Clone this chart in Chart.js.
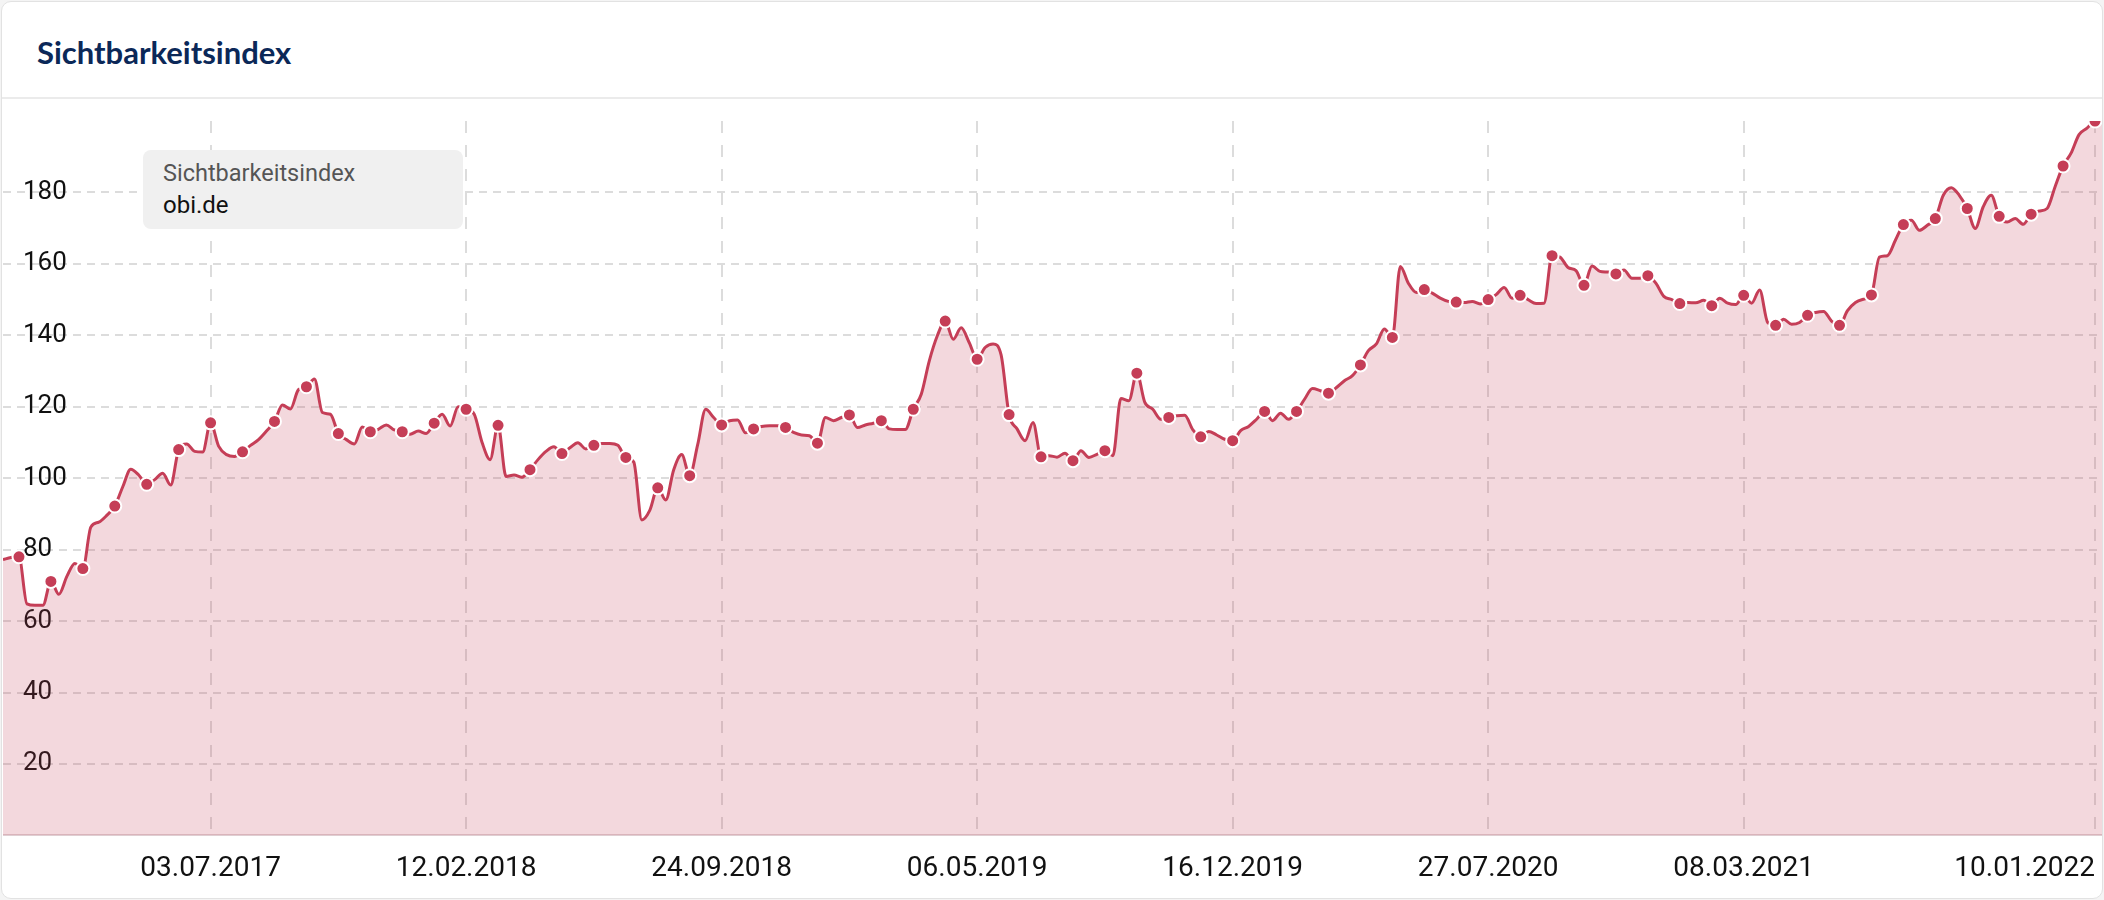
<!DOCTYPE html>
<html>
<head>
<meta charset="utf-8">
<script src="https://cdn.jsdelivr.net/npm/chart.js@4/dist/chart.umd.min.js"></script>
<style>
  html, body { margin: 0; padding: 0; background: #f4f4f4; }
  body { width: 2104px; height: 900px; position: relative; overflow: hidden; }
  #card { position: absolute; left: 1px; top: 1px; width: 2100px; height: 896px;
          background: #fff; border: 1px solid #e2e2e2; border-radius: 10px; overflow: hidden; }
  #title { position: absolute; left: 35px; top: 30px; font-family: Lato, "Open Sans", sans-serif;
           font-weight: 700; font-size: 31px; line-height: 40px; color: #0b2858; }
  #sep { position: absolute; left: 0; top: 95px; width: 100%; height: 2px; background: #ebebeb; }
  #chartwrap { position: absolute; left: 1px; top: 98px; }
  #legend { position: absolute; left: 141px; top: 148px; width: 320px; height: 79px;
            background: #f0f0f0; border-radius: 8px; font-family: Roboto, sans-serif; }
  #legend .l1 { position: absolute; left: 20px; top: 8px; color: #555; line-height: 30px; font-size: 23.5px; }
  #legend .l2 { position: absolute; left: 20px; top: 40px; color: #111; line-height: 30px; font-size: 24px; }
</style>
</head>
<body>
<div id="card">
  <div id="title">Sichtbarkeitsindex</div>
  <div id="sep"></div>
  <div id="chartwrap"><canvas id="c" width="2100" height="803"></canvas></div>
  <div id="legend"><div class="l1">Sichtbarkeitsindex</div><div class="l2">obi.de</div></div>
</div>
<script>
// Weekly categories starting 02.01.2017
const startDate = Date.UTC(2017, 0, 2);
const weekCount = 264;
const categories = [];
for (let i = 0; i < weekCount; i++) {
  const d = new Date(startDate + i * 7 * 86400000);
  const dd = String(d.getUTCDate()).padStart(2, '0');
  const mm = String(d.getUTCMonth() + 1).padStart(2, '0');
  categories.push(dd + '.' + mm + '.' + d.getUTCFullYear());
}

const tickLabels = ['03.07.2017', '12.02.2018', '24.09.2018', '06.05.2019',
                    '16.12.2019', '27.07.2020', '08.03.2021', '10.01.2022'];

const yTicks = [20, 40, 60, 80, 100, 120, 140, 160, 180];

const seriesName = 'obi.de';
const seriesLabel = 'Sichtbarkeitsindex';

const values2017 = [
  77.2, 77.8, 78.0, 64.8, 64.4, 64.4, 71.1, 67.5, 72.5, 76.1, 74.7, 86.3, 87.7,
  89.6, 92.2, 97.6, 102.5, 100.9, 98.3, 99.6, 101.4, 98.1, 108.0, 109.6, 107.5, 107.3,
  115.5, 109.0, 106.6, 106.1, 107.4, 109.2, 110.8, 113.2, 115.9, 120.5, 119.4, 124.8, 125.6,
  127.8, 118.4, 117.9, 112.5, 110.8, 109.6, 114.3, 113.0, 113.7, 114.9, 113.5, 113.0, 112.3
];
const values2018 = [
  113.2, 112.5, 115.4, 117.9, 114.6, 120.0, 119.3, 118.0, 110.0, 105.2, 114.8, 100.5, 100.9,
  100.3, 102.4, 105.2, 107.5, 108.8, 106.9, 108.5, 109.9, 108.2, 109.2, 109.7, 109.7, 109.2,
  105.8, 104.5, 88.3, 91.0, 97.3, 93.9, 102.4, 106.6, 100.7, 109.4, 119.3, 117.0, 114.9,
  116.1, 116.3, 112.7, 113.8, 114.5, 114.7, 114.7, 114.2, 112.8, 112.1, 111.9, 109.8, 117.0
];
const values2019 = [
  116.1, 117.0, 117.7, 114.2, 114.9, 115.4, 116.1, 113.8, 113.6, 113.6, 119.3, 123.5, 132.8,
  139.8, 144.0, 138.9, 142.1, 138.0, 133.3, 136.6, 137.6, 134.5, 117.8, 113.8, 110.5, 115.6,
  106.0, 106.3, 105.9, 107.0, 104.9, 107.7, 105.8, 106.7, 107.7, 106.3, 122.3, 121.7, 129.4,
  121.2, 119.3, 116.5, 117.0, 117.5, 117.6, 113.6, 111.6, 113.1, 112.1, 110.9, 110.5, 113.3
];
const values2020 = [
  114.5, 116.5, 118.7, 116.1, 118.2, 116.5, 118.7, 122.1, 125.1, 124.5, 123.8, 125.4, 127.3,
  128.7, 131.7, 135.7, 137.6, 141.8, 139.4, 159.3, 154.6, 152.0, 152.8, 151.8, 150.4, 149.5,
  149.3, 149.2, 149.5, 148.8, 150.0, 151.4, 153.4, 150.4, 151.2, 150.0, 148.9, 149.0, 162.3,
  161.9, 159.0, 158.1, 154.0, 159.4, 157.9, 157.7, 157.2, 158.3, 156.0, 156.0, 156.7, 154.6
];
const values2021 = [
  150.9, 150.0, 148.9, 149.2, 149.1, 149.8, 148.3, 150.4, 149.0, 148.6, 151.2, 149.0, 152.7,
  143.6, 142.8, 144.5, 143.1, 143.6, 145.6, 146.4, 146.7, 144.0, 142.8, 146.9, 149.2, 150.1,
  151.3, 161.9, 162.3, 166.6, 171.0, 172.2, 169.4, 170.8, 172.7, 179.2, 181.3, 179.2, 175.5,
  169.9, 176.0, 179.2, 173.3, 171.7, 172.7, 171.1, 173.9, 174.8, 175.5, 181.6, 187.4, 191.0
];
const values2022 = [196.2, 198.0, 200.0, 200.0];

const values = [].concat(values2017, values2018, values2019, values2020, values2021, values2022);

const lineColor = '#c53e57';
const fillColor = 'rgba(197, 62, 87, 0.2)';
const gridColor = '#dcdcdc';

const tickIndices = tickLabels.map(t => categories.indexOf(t));

new Chart(document.getElementById('c'), {
  type: 'line',
  data: {
    labels: categories,
    datasets: [{
      label: seriesName,
      data: values,
      borderColor: lineColor,
      backgroundColor: fillColor,
      borderWidth: 3,
      fill: 'origin',
      cubicInterpolationMode: 'monotone',
      tension: 0.4,
      pointRadius: (ctx) => (ctx.dataIndex % 4 === 2 ? 6.5 : 0),
      pointBackgroundColor: lineColor,
      pointBorderColor: '#ffffff',
      pointBorderWidth: 2,
      pointHoverRadius: 0
    }]
  },
  options: {
    responsive: false,
    animation: false,
    devicePixelRatio: 1,
    layout: { padding: { top: 21, left: 0, right: 0, bottom: 0 } },
    plugins: { legend: { display: false }, tooltip: { enabled: false } },
    events: [],
    scales: {
      x: {
        type: 'category',
        offset: false,
        afterBuildTicks: (scale) => {
          scale.ticks = [0].concat(tickIndices).map(v => ({ value: v }));
        },
        afterFit: (scale) => { scale.paddingLeft = 0; scale.paddingRight = 0; },
        ticks: {
          autoSkip: false,
          maxRotation: 0,
          minRotation: 0,
          align: 'inner',
          padding: 17,
          color: '#111',
          font: { family: 'Roboto', size: 28 },
          callback: function (value) {
            const lbl = this.getLabelForValue(value);
            return tickLabels.includes(lbl) ? lbl : '';
          }
        },
        grid: {
          drawTicks: false,
          lineWidth: 2,
          color: (ctx) => (ctx.index === 0 ? 'rgba(0,0,0,0)' : gridColor)
        },
        border: { display: true, color: '#e0d2d5', width: 2, dash: [12, 12] }
      },
      y: {
        min: 0,
        max: 200,
        afterBuildTicks: (scale) => {
          scale.ticks = [0].concat(yTicks, [200]).map(v => ({ value: v }));
        },
        afterFit: (scale) => { scale.width = 0; scale.paddingTop = 0; scale.paddingBottom = 0; },
        ticks: {
          mirror: true,
          padding: 20,
          color: '#111',
          font: { family: 'Roboto', size: 26 },
          callback: (v) => (yTicks.includes(v) ? String(v) : '')
        },
        grid: {
          drawTicks: false,
          lineWidth: 2,
          color: (ctx) => (ctx.tick && (ctx.tick.value === 0 || ctx.tick.value === 200) ? 'rgba(0,0,0,0)' : gridColor)
        },
        border: { display: false, dash: [8, 6] }
      }
    }
  }
});
</script>
</body>
</html>
